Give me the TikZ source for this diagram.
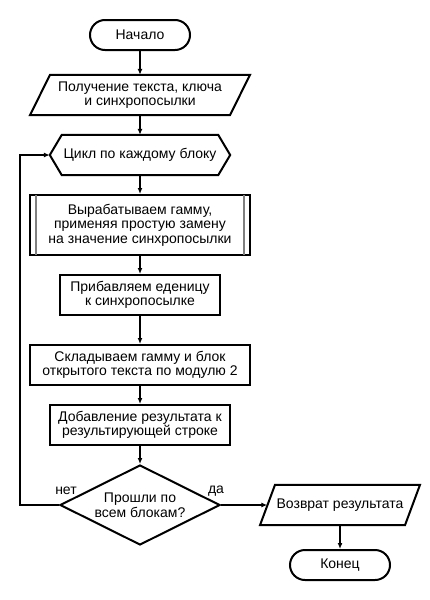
\documentclass[tikz,border=0pt]{standalone}
\usepackage{fontspec}
\setmainfont{Liberation Sans}
\usetikzlibrary{arrows.meta}
\usetikzlibrary{shapes.geometric}

\begin{document}
\begin{tikzpicture}[x=1pt,y=-1pt,>={Latex[length=6pt,width=5pt]},
		font=\fontsize{14}{14.5}\selectfont,
		outline/.style={line width=2pt,line join=miter},
		flat/.style={minimum height=40,inner sep=0,align=center},
		box/.style={flat,draw,outline},
		term/.style={draw,outline,rounded corners=15,minimum width=100,minimum height=30,inner sep=0},
		link/.style={line width=1.5pt,->}]
			\useasboundingbox (0,0) rectangle (430,600);

			\node[term] (start) at (140,35) {Начало};
			\node[flat,minimum width=200] (input) at (140,95) {Получение текста, ключа\\и синхропосылки};
			\node[flat,minimum width=180] (loop) at (140,155) {Цикл по каждому блоку};
			\node[box,minimum width=220,minimum height=60] (gamma) at (140,225) {Вырабатываем гамму,\\применяя простую замену\\на значение синхропосылки};
			\node[box,minimum width=160] (incr) at (140,295) {Прибавляем еденицу\\к синхропосылке};
			\node[box,minimum width=220] (xor) at (140,365) {Складываем гамму и блок\\открытого текста по модулю 2};
			\node[box,minimum width=180] (append) at (140,425) {Добавление результата к\\результирующей строке};
			\node[draw,outline,diamond,aspect=2,minimum width=160,minimum height=80,inner sep=0,align=center] (test) at (140,505) {Прошли по\\всем блокам?};
			\node[flat,minimum width=145] (output) at (340,505) {Возврат результата};
			\node[term] (stop) at (340,565) {Конец};
			\coordinate (back) at (20,505);

			\draw[outline] ([xshift=-90]input.north) -- ([xshift=110]input.north) -- ([xshift=90]input.south) -- ([xshift=-110]input.south) -- cycle;
			\draw[outline] (loop.west) -- ([xshift=12]loop.north west) -- ([xshift=-12]loop.north east) -- (loop.east) -- ([xshift=-12]loop.south east) -- ([xshift=12]loop.south west) -- cycle;
			\draw[outline,gray] ([xshift=7,yshift=-1]gamma.north west) -- ([xshift=7,yshift=1]gamma.south west);
			\draw[outline,gray] ([xshift=-7,yshift=-1]gamma.north east) -- ([xshift=-7,yshift=1]gamma.south east);
			\draw[outline] ([xshift=-65]output.north) -- ([xshift=80]output.north) -- ([xshift=65]output.south) -- ([xshift=-80]output.south) -- cycle;

			\draw[link] (start) -- (input);
			\draw[link] (input) -- (loop);
			\draw[link] (loop) -- (gamma);
			\draw[link] (gamma) -- (incr);
			\draw[link] (incr) -- (xor);
			\draw[link] (xor) -- (append);
			\draw[link] (append) -- (test);
			\draw[link] (test) -- (output);
			\draw[link] (output) -- (stop);
			\draw[link] (test.west) -- (back) |- (loop.west);

			\node (no) at (66,491) {нет};
			\node (yes) at (216,491) {да};
		\end{tikzpicture}
\end{document}
